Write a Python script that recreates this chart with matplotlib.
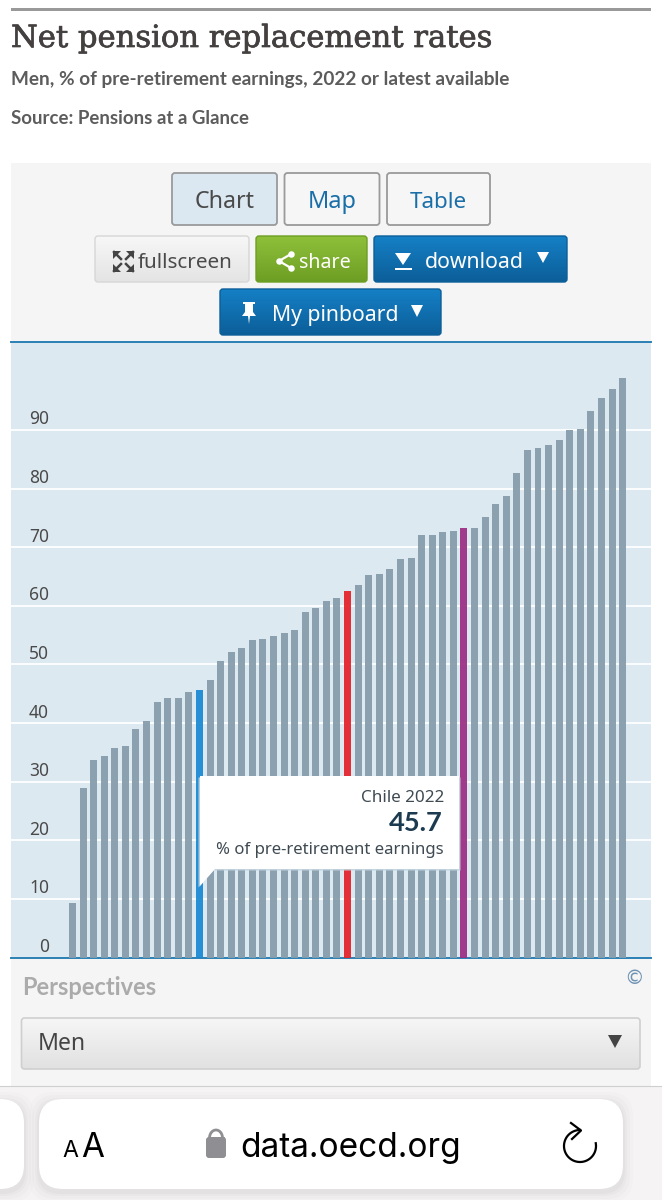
import numpy as np
import matplotlib
matplotlib.use("Agg")
import matplotlib.pyplot as plt
import matplotlib.patheffects as pe
from matplotlib.patches import FancyBboxPatch, Rectangle, Polygon
from matplotlib.colors import LinearSegmentedColormap

values = [9.3, 28.9, 33.7, 34.4, 35.8, 36.1, 38.9, 40.4, 43.6, 44.3, 44.3, 45.3, 45.7,
          47.4, 50.5, 52.1, 52.8, 54.2, 54.4, 54.8, 55.3, 55.8, 58.9, 59.7, 60.9, 61.4,
          62.5, 63.5, 65.2, 65.4, 66.3, 67.9, 68.2, 72.0, 72.1, 72.6, 72.7, 73.2, 73.2,
          75.1, 77.3, 78.8, 82.6, 86.6, 86.9, 87.4, 88.3, 90.0, 90.2, 93.3, 95.5, 97.0, 98.8]
highlight_colors = {12: "#1a8ad4", 26: "#e4232b", 37: "#9c2f85"}
y_ticks = [0, 10, 20, 30, 40, 50, 60, 70, 80, 90]
title = "Net pension replacement rates"
subtitle = "Men, % of pre-retirement earnings, 2022 or latest available"
source = "Source: Pensions at a Glance"
tooltip_head = "Chile 2022"
tooltip_unit = "% of pre-retirement earnings"

UI = "Noto Sans"
BOLD = "Lato"
SLAB = "DejaVu Serif"

W, H = 662, 1200
fig = plt.figure(figsize=(W / 100, H / 100), dpi=100, facecolor="white")
rend = fig.canvas.get_renderer()


def overlay(z):
    a = fig.add_axes([0, 0, 1, 1], zorder=z)
    a.set_xlim(0, W)
    a.set_ylim(H, 0)
    a.axis("off")
    return a


bg = overlay(0)
fg = overlay(2)


def txt(a, x, y, s, fit=None, size=12, family=UI, weight="normal", color="#333", ha="left", va="baseline", z=10):
    t = a.text(x, y, s, fontsize=size, family=family, weight=weight, color=color, ha=ha, va=va, zorder=z)
    if fit:
        w = t.get_window_extent(rend).width
        t.set_fontsize(size * fit / w)
    return t


def box(a, x0, y0, x1, y1, fc="none", ec="none", lw=1, r=3, z=3, alpha=None):
    p = FancyBboxPatch((x0 + r, y0 + r), x1 - x0 - 2 * r, y1 - y0 - 2 * r,
                       boxstyle=f"round,pad={r},rounding_size={r}", fc=fc, ec=ec, lw=lw, zorder=z, alpha=alpha)
    a.add_patch(p)
    return p


def gbox(a, x0, y0, x1, y1, c1, c2, ec="none", lw=1, r=3, z=3):
    p = box(a, x0, y0, x1, y1, ec=ec, lw=lw, r=r, z=z + 0.5)
    cm = LinearSegmentedColormap.from_list("g", [c1, c2])
    im = a.imshow(np.linspace(0, 1, 64)[:, None], extent=(x0, x1, y1, y0), cmap=cm, aspect="auto", zorder=z)
    clip = box(a, x0, y0, x1, y1, r=r, z=z)
    im.set_clip_path(clip)
    a.set_xlim(0, W)
    a.set_ylim(H, 0)


# page furniture
bg.add_patch(Rectangle((11, 7.5), 640, 3, fc="#999999", ec="none"))
t = txt(bg, 11, 47, title, fit=480, size=20, family=SLAB, color="#444040")
t.set_path_effects([pe.withStroke(linewidth=0.5, foreground="#444040")])
txt(bg, 11, 85, subtitle, fit=497, size=13, family=BOLD, weight="bold", color="#5c5c5c")
txt(bg, 11, 124, source, fit=238, size=13, family=BOLD, weight="bold", color="#5c5c5c")
bg.add_patch(Rectangle((11, 163), 640, 925, fc="#f5f5f5", ec="none", zorder=1))

# tab buttons
for x0, x1, label, fc, col, tx, tw in [(172, 277, "Chart", "#dce8f1", "#4a4a4a", 194.5, 60),
                                       (284.5, 379.5, "Map", "#f6f6f6", "#1a6fa8", 308, 49),
                                       (387, 490, "Table", "#f6f6f6", "#1a6fa8", 410, 57)]:
    box(bg, x0, 173, x1, 225, fc=fc, ec="#9a9a9a", lw=1.3, r=3)
    txt(bg, tx, 208, label, fit=tw, size=17, color=col, z=5)

# action buttons
gbox(bg, 95, 236, 249, 282, "#f7f7f7", "#e4e4e4", ec="#d6d6d6")
gbox(bg, 256, 236, 367, 282, "#8fc03a", "#6d9e24", ec="#6d9e24")
gbox(bg, 374, 236, 567, 282, "#1580c6", "#0c5e98", ec="#0c5e98")
gbox(bg, 220, 289, 441, 335, "#1580c6", "#0c5e98", ec="#0c5e98")
txt(bg, 138, 268, "fullscreen", fit=95, size=15, color="#4a4a4a", z=5)
txt(bg, 299, 268, "share", fit=52, size=15, color="white", z=5)
txt(bg, 425, 268, "download", fit=99, size=15, color="white", z=5)
txt(bg, 272, 321, "My pinboard", fit=127, size=15, color="white", z=5)

# fullscreen icon
for (cx, cy, dx, dy) in [(113, 251, 1, 1), (134, 251, -1, 1), (113, 272, 1, -1), (134, 272, -1, -1)]:
    bg.plot([cx + dx * 1, cx + dx * 8], [cy + dy * 1, cy + dy * 8], color="#444", lw=1.8, zorder=5)
    bg.add_patch(Polygon([(cx, cy), (cx + dx * 8, cy), (cx, cy + dy * 8)], fc="#444", ec="none", zorder=5))
# share icon
bg.plot([291, 279, 291], [254, 261, 268], color="white", lw=1.6, zorder=5)
bg.scatter([291, 279, 291], [254, 261, 268], s=22, c="white", linewidths=0, zorder=5)
# download icon
bg.add_patch(Polygon([(395, 253), (411, 253), (403, 265)], fc="white", ec="none", zorder=5))
bg.add_patch(Rectangle((395, 268), 17, 2, fc="white", ec="none", zorder=5))
bg.add_patch(Polygon([(537, 252), (549, 252), (543, 263)], fc="white", ec="none", zorder=5))
# pin icon
bg.add_patch(Polygon([(245, 304), (253, 304), (253, 312), (256, 316), (242, 316), (245, 312)], fc="white", ec="none", zorder=5))
bg.add_patch(Polygon([(248, 316), (250, 316), (249, 324)], fc="white", ec="none", zorder=5))
bg.add_patch(Rectangle((243, 302), 12, 2, fc="white", ec="none", zorder=5))
bg.add_patch(Polygon([(411, 305), (423, 305), (417, 317)], fc="white", ec="none", zorder=5))

# chart
ax = fig.add_axes([11 / W, 1 - 957.5 / H, 640 / W, 615.5 / H], zorder=1)
ax.set_facecolor("#dde9f1")
x = np.arange(len(values))
colors = [highlight_colors.get(i, "#869dab") for i in x]
ax.bar(x, values, width=0.66, color=colors, alpha=0.94, linewidth=0, zorder=3)
ax.set_xlim(-5.81, 54.68)
ax.set_ylim(0, 105.0)
ax.set_xticks([])
ax.set_yticks(y_ticks)
ax.set_yticklabels([str(v) for v in y_ticks], fontsize=12.5, family=UI, color="#4a4a4a", va="bottom")
ax.tick_params(axis="y", length=0, pad=-27.4)
offset = matplotlib.transforms.ScaledTranslation(0, 1.5 / 100, fig.dpi_scale_trans)
for lab in ax.get_yticklabels():
    lab.set_transform(lab.get_transform() + offset)
ax.grid(axis="y", color="white", lw=1.3, zorder=1)
ax.set_axisbelow(True)
for s in ["left", "right"]:
    ax.spines[s].set_visible(False)
for s in ["top", "bottom"]:
    ax.spines[s].set_color("#2a80b4")
    ax.spines[s].set_linewidth(1.4)

# tooltip
tail = [(200, 776), (459, 776), (459, 869), (215, 869), (200, 886)]
fg.add_patch(Polygon([(p[0] + (-1.5 if p[0] < 300 else 1.5), p[1] + 1.5) for p in tail],
                     fc="#c4d4df", ec="none", zorder=3, alpha=0.9))
fg.add_patch(Polygon(tail, fc="white", ec="none", zorder=4))
txt(fg, 444, 802, tooltip_head, fit=83, size=12, color="#3f4a52", ha="right")
txt(fg, 443, 831, f"{values[12]}", fit=54, size=17, family=BOLD, weight="bold", color="#1c3a50", ha="right")
txt(fg, 444, 854, tooltip_unit, fit=228, size=12, color="#3f4a52", ha="right")

# below the chart
txt(bg, 22, 995, "Perspectives", fit=135, size=16, family=BOLD, weight="bold", color="#ababab")
txt(bg, 634, 979, "\u00a9", size=14, color="#6f93b3", ha="center", va="center", family="DejaVu Sans")
gbox(bg, 21.5, 1018, 640, 1069, "#f6f6f6", "#e1e1e1", ec="#cfcfcf", lw=1.2, r=3)
txt(bg, 38, 1050, "Men", fit=48, size=16, color="#444", z=5)
bg.add_patch(Polygon([(608, 1035), (622, 1035), (615, 1048)], fc="#444", ec="none", zorder=5))

# browser bar
bg.add_patch(Rectangle((0, 1085.5), W, H - 1085.5, fc="#f5f3f3", ec="none", zorder=6))
bg.plot([0, W], [1085.5, 1085.5], color="#cfcfcf", lw=0.8, zorder=7)
for grow, al in [(10, 0.012), (7, 0.015), (4, 0.02), (2, 0.025)]:
    box(bg, 39 - grow, 1099 - grow + 3, 623 + grow, 1189 + grow + 3, fc="black", r=24, z=7, alpha=al)
    box(bg, -30 - grow, 1099 - grow + 3, 24 + grow, 1189 + grow + 3, fc="black", r=24, z=7, alpha=al)
box(bg, 39, 1099, 623, 1189, fc="white", r=24, z=8)
box(bg, -30, 1099, 24, 1189, fc="white", r=24, z=8)
txt(bg, 62, 1157, "A", fit=16, size=16, family="Inter", color="black", z=9)
txt(bg, 81, 1157, "A", fit=23, size=22, family="Inter", color="black", z=9)
box(bg, 206, 1137, 226, 1158, fc="#8e8e93", r=3, z=9)
th = np.radians(np.linspace(0, 180, 30))
bg.plot(216 + 6.5 * np.cos(th), 1138 - 8 * np.sin(th), color="#8e8e93", lw=2, zorder=9)
bg.plot([209.5, 209.5], [1138, 1141], color="#8e8e93", lw=2, zorder=9)
bg.plot([222.5, 222.5], [1138, 1141], color="#8e8e93", lw=2, zorder=9)
txt(bg, 240, 1157, "data.oecd.org", fit=221, size=26, family="Inter", color="black", z=9)
th = np.radians(np.linspace(-10, 270, 80))
bg.plot(580 + 16 * np.cos(th), 1146 + 16 * np.sin(th), color="black", lw=1.6, zorder=9)
bg.plot([571, 581, 572], [1123, 1130.5, 1139], color="black", lw=1.6, zorder=9)

fig.savefig("out.png", dpi=100, facecolor="white")
